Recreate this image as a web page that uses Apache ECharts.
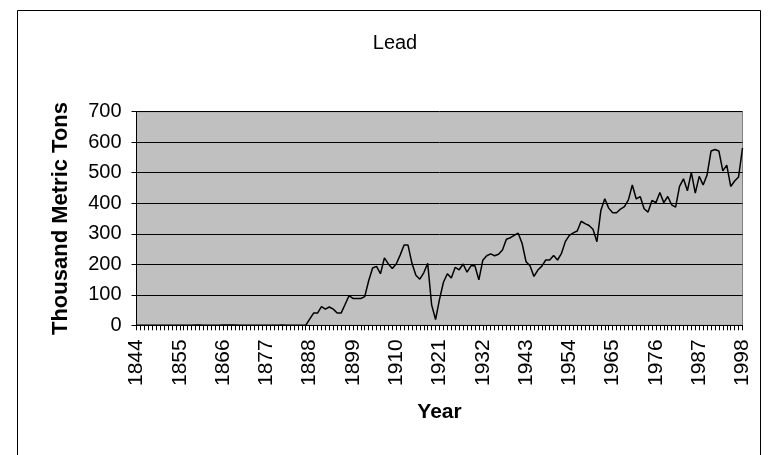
<!DOCTYPE html>
<html>
<head>
<meta charset="utf-8">
<script src="https://cdn.jsdelivr.net/npm/echarts@6/dist/echarts.min.js"></script>
<style>
html,body{margin:0;padding:0;background:#fff;}
#chart{width:773px;height:455px;}
</style>
</head>
<body>
<div id="chart"></div>
<script>
const titleText = 'Lead';
const yAxisTitle = 'Thousand Metric Tons';
const xAxisTitle = 'Year';
const firstYear = 1844;
const lastYear = 1998;
const years = [];
for (let y = firstYear; y <= lastYear; y++) years.push(String(y));

const yTicks = [0, 100, 200, 300, 400, 500, 600, 700];

// Thousand metric tons, one value per year 1844..1998
const lead = [
  // 1844-1853
  0,0,0,0,0,0,0,0,0,0,
  // 1854-1863
  0,0,0,0,0,1,1,0,0,0,
  // 1864-1873
  0,0,1,1,1,1,0,0,0,0,
  // 1874-1883
  0,0,0,0,0,0,0,1,0,0,
  // 1884-1887
  0,0,0,0,
  // 1888-1897
  20,40,40,61,53,60,53,40,40,68,
  // 1898-1907
  97,88,88,88,94,146,188,193,169,221,
  // 1908-1917
  201,186,201,230,263,263,203,164,151,172,
  // 1918-1927
  203,67,19,85,141,169,155,190,182,201,
  // 1928-1937
  174,195,195,149,213,228,234,228,233,247,
  // 1938-1947
  282,287,295,302,268,208,195,160,181,194,
  // 1948-1957
  214,214,229,214,236,275,295,303,309,341,
  // 1958-1967
  333,327,315,274,376,415,384,369,369,381,
  // 1968-1977
  389,411,460,414,422,382,371,409,402,435,
  // 1978-1987
  402,422,395,387,455,480,441,501,433,488,
  // 1988-1997
  460,493,571,576,571,506,525,455,473,486,
  // 1998
  581
];

const FONT = '"Liberation Sans", Arial, sans-serif';
const chart = echarts.init(document.getElementById('chart'), null, {renderer: 'canvas'});
chart.setOption({
  animation: false,
  backgroundColor: '#ffffff',
  title: {
    text: titleText,
    left: 390,
    textAlign: 'center',
    top: 28,
    textStyle: {fontFamily: FONT, fontSize: 20, fontWeight: 'normal', color: '#000'}
  },
  graphic: [{
    type: 'rect',
    shape: {x: 17.5, y: 10.5, width: 743, height: 470},
    style: {fill: 'none', stroke: '#000', lineWidth: 1},
    silent: true,
    z: -1
  }],
  grid: {
    left: 136.5, right: 30.5, top: 111.7, bottom: 129.7,
    show: true,
    backgroundColor: '#C0C0C0',
    borderColor: '#808080',
    borderWidth: 1,
    containLabel: false
  },
  xAxis: {
    type: 'category',
    data: years,
    boundaryGap: false,
    name: xAxisTitle,
    nameLocation: 'middle',
    nameGap: 76,
    nameTextStyle: {fontFamily: FONT, fontSize: 21, fontWeight: 'bold', color: '#000'},
    axisLine: {show: true, lineStyle: {color: '#000', width: 1}},
    axisTick: {show: true, interval: 0, inside: false, length: 5, lineStyle: {color: '#000', width: 1}},
    axisLabel: {
      interval: 10, rotate: 90, margin: 14,
      fontFamily: FONT, fontSize: 21, color: '#000',
      hideOverlap: false
    },
    splitLine: {show: false}
  },
  yAxis: {
    type: 'value',
    min: yTicks[0],
    max: yTicks[yTicks.length - 1],
    interval: 100,
    name: yAxisTitle,
    nameLocation: 'middle',
    nameGap: 65,
    nameTextStyle: {fontFamily: FONT, fontSize: 22, fontWeight: 'bold', color: '#000'},
    axisLine: {show: true, lineStyle: {color: '#000', width: 1}},
    axisTick: {show: true, inside: false, length: 5, lineStyle: {color: '#000', width: 1}},
    axisLabel: {margin: 15, fontFamily: FONT, fontSize: 20, color: '#000'},
    splitLine: {show: true, lineStyle: {color: '#000', width: 1}}
  },
  series: [{
    type: 'line',
    data: lead,
    showSymbol: false,
    symbol: 'none',
    lineStyle: {color: '#000', width: 1.5},
    z: 3
  }]
});
</script>
</body>
</html>
